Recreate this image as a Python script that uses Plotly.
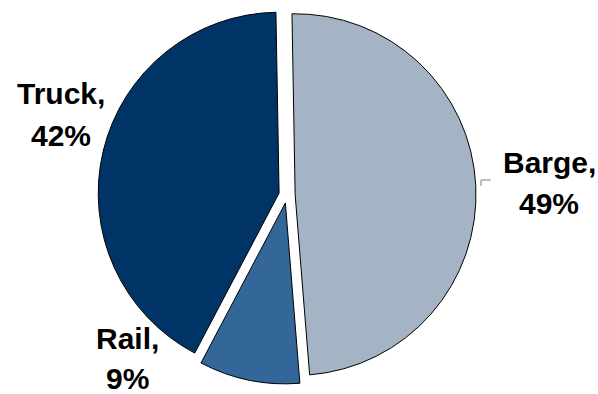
import plotly.graph_objects as go

labels = ["Barge", "Rail", "Truck"]
values = [49, 9, 42]
colors = ["#A5B4C5", "#336699", "#003366"]
# pixel centers of the outside label lines: (x, y of name line, y of percent line)
label_x = [549, 127, 61]
label_y1 = [162, 338, 93]
label_y2 = [203, 378, 136]

W, H = 598, 394
CX, CY, HALF = 287, 195, 189

fig = go.Figure(go.Pie(
    labels=labels,
    values=values,
    sort=False,
    direction="clockwise",
    rotation=-1,
    pull=[0.045, 0.045, 0.045],
    marker=dict(colors=colors, line=dict(color="#000000", width=1)),
    textinfo="none",
    hoverinfo="label+percent",
    showlegend=False,
    domain=dict(x=[(CX - HALF) / W, (CX + HALF) / W],
                y=[1 - (CY + HALF) / H, 1 - (CY - HALF) / H]),
))

font = dict(family="Liberation Sans, Arial, sans-serif", size=30, color="#000000")
total = sum(values)
for lab, v, lx, y1, y2 in zip(labels, values, label_x, label_y1, label_y2):
    fig.add_annotation(x=lx / W, y=1 - y1 / H, xref="paper", yref="paper",
                       text=f"<b>{lab},</b>", showarrow=False,
                       xanchor="center", yanchor="middle", font=font)
    fig.add_annotation(x=lx / W, y=1 - y2 / H, xref="paper", yref="paper",
                       text=f"<b>{round(100 * v / total)}%</b>", showarrow=False,
                       xanchor="center", yanchor="middle", font=font)

# small leader line for Barge label
fig.add_shape(type="line", xref="paper", yref="paper",
              x0=481 / W, x1=491 / W, y0=1 - 180 / H, y1=1 - 180 / H,
              line=dict(color="#808080", width=1))
fig.add_shape(type="line", xref="paper", yref="paper",
              x0=481 / W, x1=481 / W, y0=1 - 180 / H, y1=1 - 186 / H,
              line=dict(color="#808080", width=1))

fig.update_layout(
    width=W, height=H,
    margin=dict(l=0, r=0, t=0, b=0),
    paper_bgcolor="white", plot_bgcolor="white",
)

fig.write_html("out.html", config={"displayModeBar": False},
               post_script="document.body.style.margin='0';")
